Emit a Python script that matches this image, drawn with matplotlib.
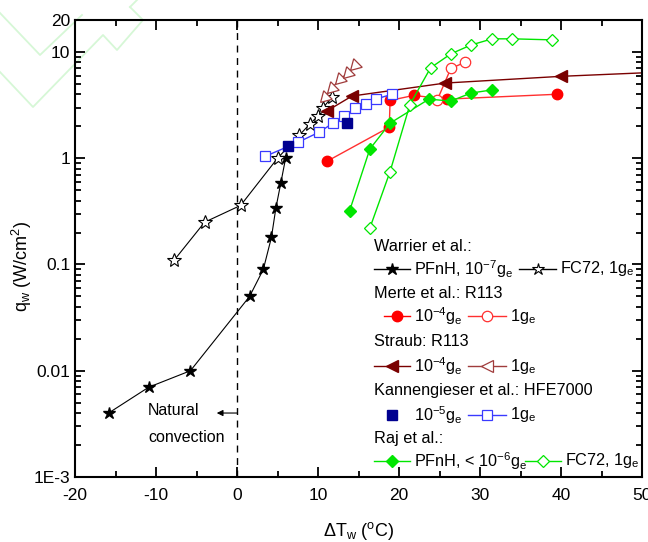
import matplotlib
matplotlib.use('Agg')
import matplotlib.pyplot as plt
from matplotlib.lines import Line2D
from matplotlib.ticker import FixedLocator, FixedFormatter, MultipleLocator, LogLocator, NullFormatter

plt.rcParams['font.family'] = ['Liberation Sans', 'DejaVu Sans']
plt.rcParams['mathtext.fontset'] = 'custom'
plt.rcParams['mathtext.rm'] = 'Liberation Sans'
plt.rcParams['axes.unicode_minus'] = False

# Warrier et al.
warrier_pfnh_dt = [-15.85, -10.9, -5.75, 1.55, 3.25, 4.25, 4.8, 5.4, 6.0]
warrier_pfnh_q = [0.004, 0.007, 0.010, 0.050, 0.090, 0.18, 0.34, 0.58, 1.0]
warrier_fc72_dt = [-7.75, -4.0, 0.45, 5.0, 7.7, 9.0, 10.0, 10.65, 11.75]
warrier_fc72_q = [0.11, 0.25, 0.36, 1.0, 1.65, 2.1, 2.5, 3.0, 3.8]

# Merte et al.: R113
merte_low_dt = [11.15, 18.8, 18.9, 21.8, 25.9, 39.5]
merte_low_q = [0.94, 1.96, 3.5, 3.9, 3.6, 4.0]
merte_1g_dt = [24.7, 26.4, 28.15]
merte_1g_q = [3.5, 7.0, 8.0]

# Straub: R113
straub_low_dt = [11.15, 14.2, 25.7, 40.0, 55.0]
straub_low_q = [2.8, 3.85, 5.1, 5.9, 6.6]
straub_1g_dt = [10.85, 11.75, 12.75, 13.7, 14.6]
straub_1g_q = [3.76, 4.6, 5.6, 6.3, 7.5]

# Kannengieser et al.: HFE7000
kann_low_dt = [6.3, 13.6]
kann_low_q = [1.3, 2.14]
kann_1g_dt = [3.45, 7.5, 10.15, 11.85, 13.25, 14.6, 15.9, 17.1, 19.15]
kann_1g_q = [1.04, 1.41, 1.76, 2.14, 2.5, 2.95, 3.25, 3.6, 4.0]

# Raj et al.
raj_pfnh_dt = [13.9, 16.4, 18.9, 23.7, 26.4, 28.85, 31.5]
raj_pfnh_q = [0.32, 1.22, 2.14, 3.6, 3.45, 4.1, 4.4]
raj_fc72_dt = [16.4, 18.9, 21.35, 23.9, 26.4, 28.85, 31.5, 34.0, 38.95]
raj_fc72_q = [0.22, 0.75, 3.2, 7.1, 9.6, 11.6, 13.3, 13.3, 13.0]

y_ticks = [1e-3, 1e-2, 0.1, 1, 10, 20]
y_tick_labels = ['1E-3', '0.01', '0.1', '1', '10', '20']

BLACK = '#000000'
RED = '#ff0000'
RED_LINE = '#ff3030'
DRED = '#7a0000'
DRED_OPEN = '#a03c3c'
NAVY = '#000090'
BLUE = '#3a3aff'
GREEN = '#00e600'

W, H = 648, 542
fig = plt.figure(figsize=(W / 100, H / 100), dpi=100)
ax = fig.add_axes([75 / W, 1 - 477 / H, 567 / W, 457 / H])
ax.set_facecolor('none')

# faint watermark lines in the top left corner
wm = '#d6f7d6'
for xs, ys in [([0, 40, 82], [13, 55, 15]),
               ([0, 33, 103, 117, 143, 130], [72, 107, 35, 50, 20, 7]),
               ([130, 137], [7, 0])]:
    fig.add_artist(Line2D([x / W for x in xs], [1 - y / H for y in ys],
                          color=wm, lw=1.3, zorder=0))

ax.plot(warrier_pfnh_dt, warrier_pfnh_q, '-', color=BLACK, lw=0.8, marker='*',
        ms=9, mfc=BLACK, mec=BLACK)
ax.plot(warrier_fc72_dt, warrier_fc72_q, '-', color=BLACK, lw=0.8, marker='*',
        ms=10, mfc='white', mec=BLACK, mew=0.8)
ax.plot(merte_low_dt, merte_low_q, '-', color=RED_LINE, lw=1.0, marker='o',
        ms=7.5, mfc=RED, mec=RED)
ax.plot(merte_1g_dt, merte_1g_q, '-', color=RED_LINE, lw=1.0, marker='o',
        ms=7.5, mfc='white', mec=RED_LINE, mew=0.9)
ax.plot(straub_low_dt, straub_low_q, '-', color=DRED, lw=1.0, marker='<',
        ms=9, mfc=DRED, mec=DRED)
ax.plot(straub_1g_dt, straub_1g_q, '-', color=DRED_OPEN, lw=1.0, marker=(3, 0, 135),
        ms=10, mfc='white', mec=DRED_OPEN, mew=0.9)
ax.plot(kann_1g_dt, kann_1g_q, '-', color=BLUE, lw=1.0, marker='s',
        ms=6.5, mfc='white', mec=BLUE, mew=0.9)
ax.plot(kann_low_dt, kann_low_q, 's', ms=6.5, mfc=NAVY, mec=NAVY)
ax.plot(raj_pfnh_dt, raj_pfnh_q, '-', color=GREEN, lw=1.0, marker='D',
        ms=6.5, mfc=GREEN, mec=GREEN)
ax.plot(raj_fc72_dt, raj_fc72_q, '-', color=GREEN, lw=1.0, marker='D',
        ms=6.5, mfc='white', mec=GREEN, mew=0.9)

ax.axvline(0, color=BLACK, lw=1.0, ls=(0, (5, 4)))

ax.set_xlim(-20, 50)
ax.set_yscale('log')
ax.set_ylim(1e-3, 20)

ax.xaxis.set_major_locator(MultipleLocator(10))
ax.xaxis.set_minor_locator(MultipleLocator(5))
ax.yaxis.set_major_locator(FixedLocator(y_ticks))
ax.yaxis.set_major_formatter(FixedFormatter(y_tick_labels))
ax.yaxis.set_minor_locator(LogLocator(base=10, subs=range(2, 10)))
ax.yaxis.set_minor_formatter(NullFormatter())
ax.tick_params(which='both', direction='in', top=True, right=True, labelsize=12.5,
               width=1.3)
ax.tick_params(which='major', length=7)
ax.tick_params(which='minor', length=4)
ax.tick_params(axis='x', pad=8)
for s in ax.spines.values():
    s.set_linewidth(1.5)

ax.set_xlabel(r'ΔT$_\mathregular{w}$ ($^\mathregular{o}$C)', fontsize=13, labelpad=12)
ax.set_ylabel(r'q$_\mathregular{w}$ (W/cm$^\mathregular{2}$)', fontsize=13)
ax.yaxis.set_label_coords(-0.072, 0.46)

# natural convection note
ax.text(-11.0, 0.0042, 'Natural', fontsize=11.5, va='center', ha='left')
ax.text(-11.0, 0.00235, 'convection', fontsize=11.5, va='center', ha='left')
ax.annotate('', xy=(-2.5, 0.0040), xytext=(0.0, 0.0040),
            arrowprops=dict(arrowstyle='-|>', color=BLACK, lw=0.8,
                            mutation_scale=9, shrinkA=0, shrinkB=0))


# hand-built legend, laid out in figure pixels like the reference
def fxy(px, py):
    return px / W, 1 - py / H


def heading(py, text):
    x, y = fxy(374, py)
    fig.text(x, y, text, fontsize=11.7, va='center', ha='left')


def entry(px0, px1, py, text, line=True, **kw):
    xa, y = fxy(px0, py)
    xb, _ = fxy(px1, py)
    if line:
        fig.add_artist(Line2D([xa, xb], [y, y], lw=1.0, color=kw.get('mec')))
    fig.add_artist(Line2D([(xa + xb) / 2], [y], ls='none', **kw))
    xt, _ = fxy(px1 + 4, py)
    fig.text(xt, y, text, fontsize=11.7, va='center', ha='left')


g = r'g$_\mathregular{e}$'
heading(247, 'Warrier et al.:')
entry(374, 410, 269, r'PFnH, 10$^\mathregular{-7}$' + g, marker='*', ms=9, mfc=BLACK, mec=BLACK)
entry(519, 556, 269, 'FC72, 1' + g, marker='*', ms=9, mfc='white', mec=BLACK, mew=0.8)
heading(294, 'Merte et al.: R113')
entry(384, 410, 316, r'10$^\mathregular{-4}$' + g, marker='o', ms=7.5, mfc=RED, mec=RED)
entry(468, 506, 316, '1' + g, marker='o', ms=7.5, mfc='white', mec=RED_LINE, mew=0.9)
heading(342, 'Straub: R113')
entry(374, 410, 366, r'10$^\mathregular{-4}$' + g, marker='<', ms=9, mfc=DRED, mec=DRED)
entry(468, 506, 366, '1' + g, marker='<', ms=9, mfc='white', mec=DRED_OPEN, mew=0.9)
heading(391, 'Kannengieser et al.: HFE7000')
entry(374, 410, 415, r'10$^\mathregular{-5}$' + g, line=False, marker='s', ms=6.5,
      mfc=NAVY, mec=NAVY)
entry(468, 506, 415, '1' + g, marker='s', ms=6.5, mfc='white', mec=BLUE, mew=0.9)
heading(438, 'Raj et al.:')
entry(374, 410, 461, r'PFnH, < 10$^\mathregular{-6}$' + g, marker='D', ms=6.5, mfc=GREEN, mec=GREEN)
entry(525, 561, 461, 'FC72, 1' + g, marker='D', ms=6.5, mfc='white', mec=GREEN, mew=0.9)

fig.savefig('out.png', dpi=100)
